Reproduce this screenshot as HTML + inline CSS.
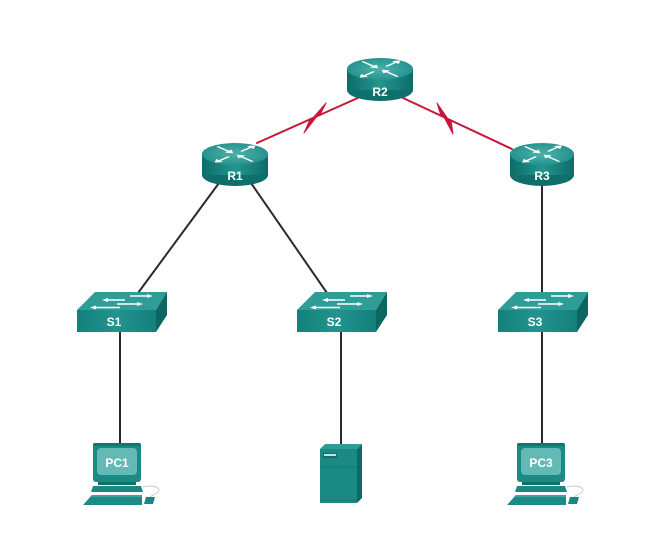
<!DOCTYPE html>
<html>
<head>
<meta charset="utf-8">
<style>
  html, body { margin: 0; padding: 0; background: #ffffff; }
  svg { display: block; }
  text { font-family: "Liberation Sans", Arial, sans-serif; font-weight: bold; fill: #ffffff; }
</style>
</head>
<body>
<svg width="653" height="556" viewBox="0 0 653 556" xmlns="http://www.w3.org/2000/svg">
  <defs>
    <linearGradient id="rbody" x1="0" y1="0" x2="1" y2="0">
      <stop offset="0" stop-color="#0e6c69"/>
      <stop offset="0.5" stop-color="#23958f"/>
      <stop offset="1" stop-color="#0e6c69"/>
    </linearGradient>
    <radialGradient id="rtop" cx="0.5" cy="0.5" r="0.6">
      <stop offset="0" stop-color="#4db1ac"/>
      <stop offset="1" stop-color="#1f8d88"/>
    </radialGradient>
    <linearGradient id="swfront" x1="0" y1="0" x2="1" y2="0">
      <stop offset="0" stop-color="#14807b"/>
      <stop offset="0.5" stop-color="#22938e"/>
      <stop offset="1" stop-color="#14807b"/>
    </linearGradient>
    <g id="rarrows">
      <g stroke="#ffffff" stroke-width="3" fill="none" stroke-linecap="round">
        <line x1="-20" y1="-20" x2="-6" y2="-6"/>
        <line x1="20" y1="20" x2="6" y2="6"/>
        <line x1="20" y1="-20" x2="8" y2="-8"/>
        <line x1="-20" y1="20" x2="-8" y2="8"/>
      </g>
      <g fill="#ffffff">
        <polygon points="-2,-2 -12,-4 -4,-12"/>
        <polygon points="2,2 12,4 4,12"/>
        <polygon points="24,-24 14,-22 22,-14"/>
        <polygon points="-24,24 -14,22 -22,14"/>
      </g>
    </g>
  </defs>

  <!-- Ethernet links -->
  <g stroke="#2b2b2b" stroke-width="2" fill="none">
    <line x1="219" y1="183" x2="138" y2="293"/>
    <line x1="251" y1="183" x2="327" y2="293"/>
    <line x1="542" y1="185" x2="542" y2="293"/>
    <line x1="120" y1="331" x2="120" y2="444"/>
    <line x1="341" y1="331" x2="341" y2="445"/>
    <line x1="542" y1="331" x2="542" y2="444"/>
  </g>

  <!-- Serial links with lightning bolts -->
  <g stroke="#c8173a" stroke-width="2" fill="none" stroke-linecap="round">
    <line x1="257" y1="143" x2="360" y2="97"/>
    <line x1="401" y1="97" x2="512" y2="149"/>
  </g>
  <g fill="#c8173a" stroke="#c8173a" stroke-width="1" stroke-linejoin="round">
    <polygon points="310,119.3 317,116.2 304,133"/>
    <polygon points="313,118 320,114.9 326,103"/>
    <polygon points="441,115.7 448,119 437,103"/>
    <polygon points="444,117.1 451,120.4 453,134"/>
  </g>

  <!-- Routers -->
  <g id="R1">
    <ellipse cx="235" cy="175" rx="33" ry="11" fill="#0f6f6c"/>
    <rect x="202" y="154" width="66" height="21" fill="url(#rbody)"/>
    <ellipse cx="235" cy="154" rx="33" ry="11" fill="url(#rtop)"/>
    <g transform="translate(235,154) scale(0.85,0.36)"><use href="#rarrows"/></g>
    <text x="235" y="180" font-size="12" text-anchor="middle">R1</text>
  </g>
  <g id="R2">
    <ellipse cx="380" cy="90" rx="33" ry="11" fill="#0f6f6c"/>
    <rect x="347" y="69" width="66" height="21" fill="url(#rbody)"/>
    <ellipse cx="380" cy="69" rx="33" ry="11" fill="url(#rtop)"/>
    <g transform="translate(380,69) scale(0.85,0.36)"><use href="#rarrows"/></g>
    <text x="380" y="96" font-size="12" text-anchor="middle">R2</text>
  </g>
  <g id="R3">
    <ellipse cx="542" cy="175" rx="32" ry="11" fill="#0f6f6c"/>
    <rect x="510" y="154" width="64" height="21" fill="url(#rbody)"/>
    <ellipse cx="542" cy="154" rx="32" ry="11" fill="url(#rtop)"/>
    <g transform="translate(542,154) scale(0.83,0.36)"><use href="#rarrows"/></g>
    <text x="542" y="180" font-size="12" text-anchor="middle">R3</text>
  </g>

  <!-- Switches -->
  <g id="S1" transform="translate(77,0)">
    <polygon points="0,310 18,292 90,292 79,310" fill="#2e9c97"/>
    <rect x="0" y="310" width="79" height="22" fill="url(#swfront)"/>
    <polygon points="79,310 90,292 90,315 79,332" fill="#0d6662"/>
    <g stroke="#ffffff" stroke-width="1.6" fill="#ffffff">
      <line x1="53" y1="296" x2="72" y2="296"/><polygon points="76,296 70,294 70,298" stroke="none"/>
      <line x1="48" y1="300" x2="29" y2="300"/><polygon points="25,300 31,298 31,302" stroke="none"/>
      <line x1="40" y1="304" x2="62" y2="304"/><polygon points="66,304 60,302 60,306" stroke="none"/>
      <line x1="43" y1="307.5" x2="17" y2="307.5"/><polygon points="13,307.5 19,305.5 19,309.5" stroke="none"/>
    </g>
    <text x="37" y="326" font-size="12" text-anchor="middle">S1</text>
  </g>
  <g id="S2" transform="translate(297,0)">
    <polygon points="0,310 18,292 90,292 79,310" fill="#2e9c97"/>
    <rect x="0" y="310" width="79" height="22" fill="url(#swfront)"/>
    <polygon points="79,310 90,292 90,315 79,332" fill="#0d6662"/>
    <g stroke="#ffffff" stroke-width="1.6" fill="#ffffff">
      <line x1="53" y1="296" x2="72" y2="296"/><polygon points="76,296 70,294 70,298" stroke="none"/>
      <line x1="48" y1="300" x2="29" y2="300"/><polygon points="25,300 31,298 31,302" stroke="none"/>
      <line x1="40" y1="304" x2="62" y2="304"/><polygon points="66,304 60,302 60,306" stroke="none"/>
      <line x1="43" y1="307.5" x2="17" y2="307.5"/><polygon points="13,307.5 19,305.5 19,309.5" stroke="none"/>
    </g>
    <text x="37" y="326" font-size="12" text-anchor="middle">S2</text>
  </g>
  <g id="S3" transform="translate(498,0)">
    <polygon points="0,310 18,292 90,292 79,310" fill="#2e9c97"/>
    <rect x="0" y="310" width="79" height="22" fill="url(#swfront)"/>
    <polygon points="79,310 90,292 90,315 79,332" fill="#0d6662"/>
    <g stroke="#ffffff" stroke-width="1.6" fill="#ffffff">
      <line x1="53" y1="296" x2="72" y2="296"/><polygon points="76,296 70,294 70,298" stroke="none"/>
      <line x1="48" y1="300" x2="29" y2="300"/><polygon points="25,300 31,298 31,302" stroke="none"/>
      <line x1="40" y1="304" x2="62" y2="304"/><polygon points="66,304 60,302 60,306" stroke="none"/>
      <line x1="43" y1="307.5" x2="17" y2="307.5"/><polygon points="13,307.5 19,305.5 19,309.5" stroke="none"/>
    </g>
    <text x="37" y="326" font-size="12" text-anchor="middle">S3</text>
  </g>

  <!-- PC1 -->
  <g id="PC1" transform="translate(117,0)">
    <rect x="-24" y="443" width="48" height="39" rx="3" fill="#1b8984"/>
    <rect x="-24" y="443" width="48" height="3" rx="2" fill="#117570"/>
    <rect x="-20" y="448" width="40" height="27" rx="4" fill="#63b9b4"/>
    <text x="0" y="467" font-size="12" text-anchor="middle">PC1</text>
    <rect x="-19" y="482" width="38" height="3" fill="#0f6f6b"/>
    <polygon points="-24,486 24,486 26,492 -26,492" fill="#1a8782"/>
    <polygon points="-25,495 25,495 25,505 -34,505" fill="#1d8c87"/>
    <polygon points="-25,495 25,495 25,497 -27,497" fill="#3aa39e"/>
    <polygon points="29,497 38,497 36,504 27,504" fill="#1a8782"/>
    <path d="M26,487 C38,484 46,489 40,493 C37,495 34,496 33,497" stroke="#c9c9c9" stroke-width="1" fill="none"/>
  </g>

  <!-- PC3 -->
  <g id="PC3" transform="translate(541,0)">
    <rect x="-24" y="443" width="48" height="39" rx="3" fill="#1b8984"/>
    <rect x="-24" y="443" width="48" height="3" rx="2" fill="#117570"/>
    <rect x="-20" y="448" width="40" height="27" rx="4" fill="#63b9b4"/>
    <text x="0" y="467" font-size="12" text-anchor="middle">PC3</text>
    <rect x="-19" y="482" width="38" height="3" fill="#0f6f6b"/>
    <polygon points="-24,486 24,486 26,492 -26,492" fill="#1a8782"/>
    <polygon points="-25,495 25,495 25,505 -34,505" fill="#1d8c87"/>
    <polygon points="-25,495 25,495 25,497 -27,497" fill="#3aa39e"/>
    <polygon points="29,497 38,497 36,504 27,504" fill="#1a8782"/>
    <path d="M26,487 C38,484 46,489 40,493 C37,495 34,496 33,497" stroke="#c9c9c9" stroke-width="1" fill="none"/>
  </g>

  <!-- Server -->
  <g id="Server">
    <polygon points="320,449 325,444 362,444 357,449" fill="#2e9c97"/>
    <rect x="320" y="449" width="37" height="54" fill="#1b8984"/>
    <polygon points="357,449 362,444 362,498 357,503" fill="#0e6a66"/>
    <rect x="323" y="453" width="14" height="5" fill="#0f6f6b"/>
    <rect x="324" y="454" width="12" height="2" fill="#bfe6e3"/>
    <line x1="320" y1="467" x2="357" y2="467" stroke="#137a76" stroke-width="1"/>
    <line x1="320" y1="500" x2="357" y2="500" stroke="#137a76" stroke-width="1"/>
  </g>
</svg>
</body>
</html>
